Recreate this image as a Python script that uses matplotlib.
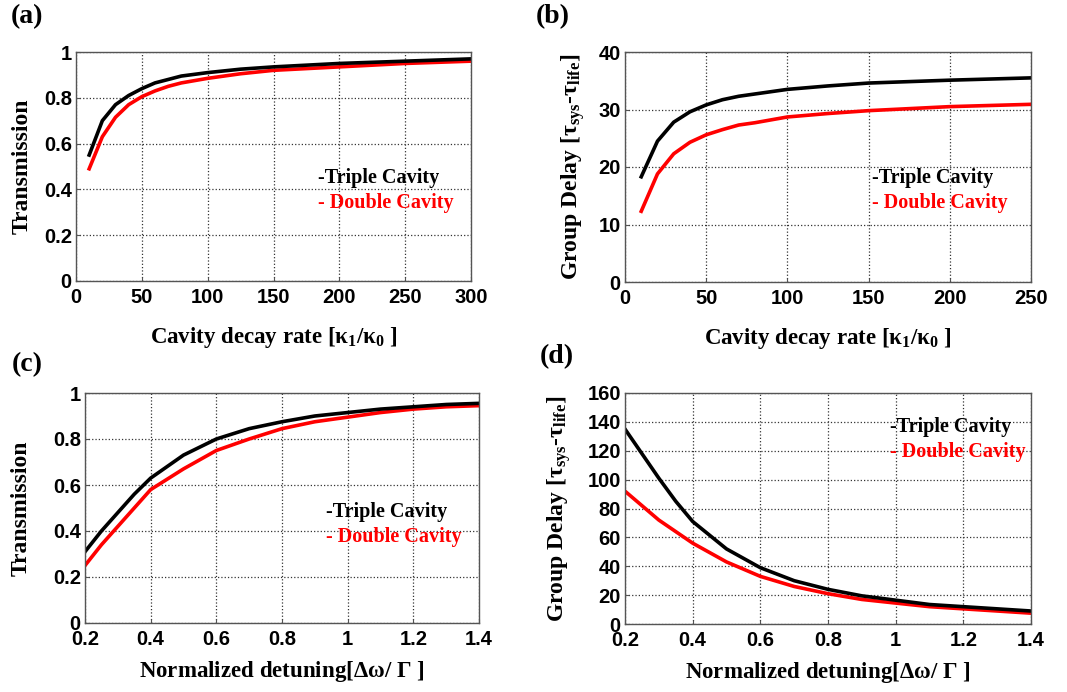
import numpy as np
import matplotlib
matplotlib.use("Agg")
import matplotlib.pyplot as plt

plt.rcParams['mathtext.fontset'] = 'custom'
plt.rcParams['mathtext.rm'] = 'Liberation Serif:bold'
plt.rcParams['mathtext.it'] = 'Liberation Serif:bold'
plt.rcParams['mathtext.bf'] = 'Liberation Serif:bold'

# --- (a) transmission vs cavity decay rate ---
rate_a = [10, 20, 30, 40, 50, 60, 70, 80, 100, 125, 150, 200, 250, 300]
trans_triple_a = [0.55, 0.70, 0.77, 0.81, 0.84, 0.865, 0.88, 0.895, 0.91, 0.925, 0.935, 0.95, 0.96, 0.97]
trans_double_a = [0.49, 0.63, 0.715, 0.77, 0.805, 0.83, 0.85, 0.865, 0.885, 0.905, 0.92, 0.935, 0.95, 0.96]

# --- (b) group delay vs cavity decay rate ---
rate_b = [10, 20, 30, 40, 50, 60, 70, 80, 100, 125, 150, 200, 250]
delay_triple_b = [18.3, 24.5, 27.8, 29.6, 30.8, 31.7, 32.3, 32.7, 33.5, 34.1, 34.6, 35.1, 35.5]
delay_double_b = [12.3, 18.8, 22.3, 24.3, 25.6, 26.5, 27.3, 27.7, 28.7, 29.3, 29.8, 30.5, 30.9]

# --- (c) transmission vs detuning ---
detune_c = [0.2, 0.25, 0.3, 0.35, 0.4, 0.5, 0.6, 0.7, 0.8, 0.9, 1.0, 1.1, 1.2, 1.3, 1.4]
trans_triple_c = [0.31, 0.40, 0.48, 0.56, 0.63, 0.73, 0.80, 0.845, 0.875, 0.90, 0.915, 0.93, 0.94, 0.95, 0.955]
trans_double_c = [0.25, 0.34, 0.42, 0.50, 0.58, 0.67, 0.75, 0.80, 0.845, 0.875, 0.895, 0.915, 0.93, 0.94, 0.945]

# --- (d) group delay vs detuning ---
detune_d = [0.2, 0.25, 0.3, 0.35, 0.4, 0.5, 0.6, 0.7, 0.8, 0.9, 1.0, 1.1, 1.2, 1.3, 1.4]
delay_triple_d = [135, 118, 101, 85, 71, 52, 39, 30, 24, 19.5, 16.5, 13.5, 12, 10.5, 9]
delay_double_d = [92, 82, 72, 64, 56, 43, 33, 26, 21, 17, 14.5, 12, 10.5, 9, 7.5]

W, H = 1067, 692
fig = plt.figure(figsize=(W / 100, H / 100), dpi=100)

def px_axes(l, t, r, b):
    return fig.add_axes([l / W, 1 - b / H, (r - l) / W, (b - t) / H])

serif = 'Liberation Serif'
sans = 'Liberation Sans'
kappa_lbl = r'Cavity decay rate [$\kappa_1/\kappa_0$ ]'
detune_lbl = r'Normalized detuning[$\Delta\omega$/ $\Gamma$ ]'
delay_lbl = r'Group Delay [$\tau_{sys}$-$\tau_{life}$]'

def style(ax, xlim, xticks, xtl, ylim, yticks, ytl, xlabel, ylabel, xlpad, ylpad, ylsize=17):
    ax.set_xlim(*xlim)
    ax.set_ylim(*ylim)
    ax.set_xticks(xticks)
    ax.set_xticklabels(xtl, fontfamily=sans, fontweight='bold', fontsize=14.5)
    ax.set_yticks(yticks)
    ax.set_yticklabels(ytl, fontfamily=sans, fontweight='bold', fontsize=14.5)
    ax.grid(True, linestyle=':', color='#333333', linewidth=0.9)
    ax.tick_params(direction='in', length=3, width=0.8, color='#555555')
    ax.tick_params(axis='x', pad=5)
    ax.tick_params(axis='y', pad=3)
    for s in ax.spines.values():
        s.set_color('#555555')
        s.set_linewidth(1.0)
    ax.set_xlabel(xlabel, fontfamily=serif, fontweight='bold', fontsize=16.5, labelpad=xlpad)
    ax.set_ylabel(ylabel, fontfamily=serif, fontweight='bold', fontsize=ylsize, labelpad=ylpad)

def legend_text(ax, x, y1, y2):
    ax.text(x, y1, '-Triple Cavity', color='black', fontfamily=serif, fontweight='bold',
            fontsize=14.5, transform=ax.transAxes, va='center')
    ax.text(x, y2, '- Double Cavity', color='red', fontfamily=serif, fontweight='bold',
            fontsize=14.5, transform=ax.transAxes, va='center')

def panel_label(x, y, s):
    fig.text(x / W, 1 - y / H, s, fontfamily=serif, fontweight='bold', fontsize=20, va='center')

lw = 2.6

# (a)
ax = px_axes(76, 52, 471, 281)
ax.plot(rate_a, trans_double_a, color='red', lw=lw)
ax.plot(rate_a, trans_triple_a, color='black', lw=lw)
style(ax, (0, 300), [0, 50, 100, 150, 200, 250, 300], ['0', '50', '100', '150', '200', '250', '300'],
      (0, 1), [0, 0.2, 0.4, 0.6, 0.8, 1], ['0', '0.2', '0.4', '0.6', '0.8', '1'],
      kappa_lbl, 'Transmission', 13, 8)
legend_text(ax, 0.612, 0.45, 0.34)
panel_label(11, 17, '(a)')

# (b)
ax = px_axes(625, 52, 1031, 282)
ax.plot(rate_b, delay_double_b, color='red', lw=lw)
ax.plot(rate_b, delay_triple_b, color='black', lw=lw)
style(ax, (0, 250), [0, 50, 100, 150, 200, 250], ['0', '50', '100', '150', '200', '250'],
      (0, 40), [0, 10, 20, 30, 40], ['0', '10', '20', '30', '40'],
      kappa_lbl, delay_lbl, 13, 8)
legend_text(ax, 0.608, 0.452, 0.343)
panel_label(536, 17, '(b)')

# (c)
ax = px_axes(85, 393, 479, 623)
ax.plot(detune_c, trans_double_c, color='red', lw=lw)
ax.plot(detune_c, trans_triple_c, color='black', lw=lw)
style(ax, (0.2, 1.4), [0.2, 0.4, 0.6, 0.8, 1.0, 1.2, 1.4], ['0.2', '0.4', '0.6', '0.8', '1', '1.2', '1.4'],
      (0, 1), [0, 0.2, 0.4, 0.6, 0.8, 1], ['0', '0.2', '0.4', '0.6', '0.8', '1'],
      detune_lbl, 'Transmission', 7, 15)
legend_text(ax, 0.612, 0.483, 0.374)
panel_label(12, 365, '(c)')

# (d)
ax = px_axes(625, 393, 1031, 624)
ax.plot(detune_d, delay_double_d, color='red', lw=lw)
ax.plot(detune_d, delay_triple_d, color='black', lw=lw)
style(ax, (0.2, 1.4), [0.2, 0.4, 0.6, 0.8, 1.0, 1.2, 1.4], ['0.2', '0.4', '0.6', '0.8', '1', '1.2', '1.4'],
      (0, 160), [0, 20, 40, 60, 80, 100, 120, 140, 160],
      ['0', '20', '40', '60', '80', '100', '120', '140', '160'],
      detune_lbl, delay_lbl, 7, 10)
legend_text(ax, 0.652, 0.853, 0.745)
panel_label(540, 357, '(d)')

fig.savefig('out.png', dpi=100)
